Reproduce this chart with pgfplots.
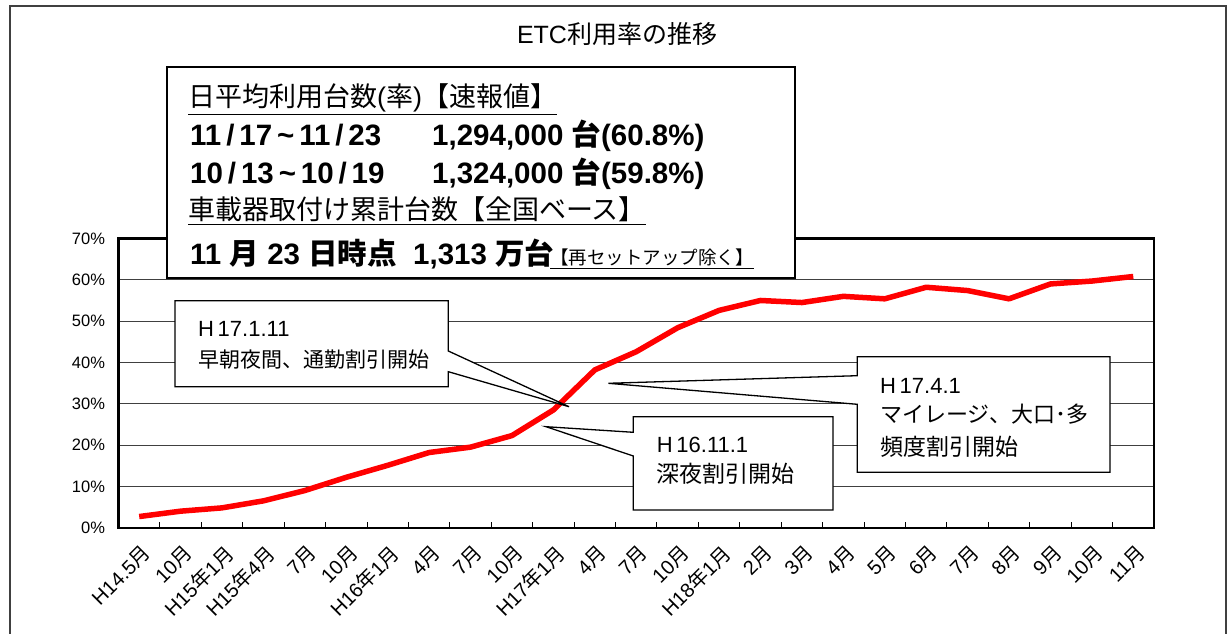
\documentclass[border=0pt]{standalone}
\usepackage{pgfplots}
\pgfplotsset{compat=1.18}
\usepackage{fontspec}
\setmainfont{Liberation Sans}
\newfontfamily\jp{Noto Sans CJK JP}
\newcommand\J[1]{{\jp #1}}
\newcommand\Mo{\J{月}}
\newcommand\Ne{\J{年}}
\newcommand\fs[1]{\fontsize{#1pt}{#1pt}\selectfont}
\begin{document}
\begin{tikzpicture}
\useasboundingbox (0,0) rectangle (1231pt,634pt);
\begin{axis}[
  at={(118.5pt,106.3pt)}, anchor=south west,
  scale only axis, width=1035.5pt, height=289.2pt,
  xmin=-0.5, xmax=24.5, ymin=0, ymax=70,
  axis line style={line width=2.2pt},
  xtick={0,...,24},
  xticklabels={H14.5\Mo, 10\Mo, H15\Ne1\Mo, H15\Ne4\Mo, 7\Mo, 10\Mo, H16\Ne1\Mo, 4\Mo, 7\Mo, 10\Mo, H17\Ne1\Mo, 4\Mo, 7\Mo, 10\Mo, H18\Ne1\Mo, 2\Mo, 3\Mo, 4\Mo, 5\Mo, 6\Mo, 7\Mo, 8\Mo, 9\Mo, 10\Mo, 11\Mo},
  minor xtick={0.5,1.5,...,23.5},
  major x tick style={draw=none},
  minor x tick style={black, line width=1pt},
  minor tick length=6pt,
  tick align=inside,
  xtick pos=lower, ytick pos=left,
  x tick label style={xshift=8pt, yshift=-22pt, rotate=45, anchor=east, inner sep=0pt, font=\fs{20}},
  ytick={0,10,...,70},
  yticklabel={\pgfmathprintnumber{\tick}\%},
  y tick label style={font=\fs{16.5}, xshift=-10pt},
  /pgf/number format/assume math mode=true,
  ymajorgrids, grid style={black!75, line width=0.9pt},
  major y tick style={draw=none},
]
\addplot[red, line width=5.5pt, line join=round] coordinates {
(0,2.7) (1,4.0) (2,4.8) (3,6.5) (4,9.0) (5,12.2) (6,15.1) (7,18.2) (8,19.5) (9,22.3)
(10,28.5) (11,38.2) (12,42.6) (13,48.4) (14,52.6) (15,55.0) (16,54.5) (17,56.0) (18,55.4)
(19,58.2) (20,57.4) (21,55.4) (22,59.0) (23,59.7) (24,60.8)};
\end{axis}
\begin{scope}[x=1pt, y=-1pt, shift={(0pt,634pt)}]
% outer frame
\draw[line width=1.5pt, black!75] (10,650) -- (10,6) -- (1226,6) -- (1226,650);
% title
\node[anchor=base, font=\fs{25}] at (617,44) {ETC\J{利用率の推移}};
% info box
\draw[line width=1.6pt, fill=white] (167,67) rectangle (795,278);
\node[anchor=base west, font=\fs{27}, inner sep=0pt] at (188,107) {\underline{\J{日平均利用台数}(\J{率})\J{【速報値】}}};
\node[anchor=base west, font=\bfseries\fs{29.5}, inner sep=0pt] at (190,146) {11\,/\,17\,\textasciitilde\,11\,/\,23};
\node[anchor=base west, font=\bfseries\fs{29.5}, inner sep=0pt] at (432,146) {1,294,000 \J{台}(60.8\%)};
\node[anchor=base west, font=\bfseries\fs{29.5}, inner sep=0pt] at (190,184) {10\,/\,13\,\textasciitilde\,10\,/\,19};
\node[anchor=base west, font=\bfseries\fs{29.5}, inner sep=0pt] at (432,184) {1,324,000 \J{台}(59.8\%)};
\node[anchor=base west, font=\fs{27}, inner sep=0pt] at (188,220) {\underline{\J{車載器取付け累計台数【全国ベース】}}};
\node[anchor=base west, font=\bfseries\fs{29.5}, inner sep=0pt] at (190,265) {11 \J{月} 23 \J{日時点}\ \ 1,313 \J{万台}};
\node[anchor=base west, font=\fs{18.5}, inner sep=0pt] at (550,265) {\underline{\J{【再セットアップ除く】}}};
% callout 1
\draw[line width=1.3pt, fill=white] (175,300.7) -- (448.3,300.7) -- (448.3,351) -- (569,406.7) -- (448.3,371.7) -- (448.3,386.7) -- (175,386.7) -- cycle;
\node[anchor=base west, font=\fs{22}, inner sep=0pt] at (198,336.7) {H\,17.1.11};
\node[anchor=base west, font=\fs{21}, inner sep=0pt] at (198,368) {\J{早朝夜間、通勤割引開始}};
% callout 2
\draw[line width=1.3pt, fill=white] (633.3,416.7) -- (833,416.7) -- (833,510) -- (633.3,510) -- (633.3,456) -- (546,426.7) -- (633.3,432.3) -- cycle;
\node[anchor=base west, font=\fs{22}, inner sep=0pt] at (656.7,452.7) {H\,16.11.1};
\node[anchor=base west, font=\fs{23}, inner sep=0pt] at (656.7,483) {\J{深夜割引開始}};
% callout 3
\draw[line width=1.3pt, fill=white] (857.3,356.7) -- (1110,356.7) -- (1110,472.3) -- (857.3,472.3) -- (857.3,404.3) -- (608.3,383.3) -- (857.3,375.7) -- cycle;
\node[anchor=base west, font=\fs{22}, inner sep=0pt] at (880,393.3) {H\,17.4.1};
\node[anchor=base west, font=\fs{22}, inner sep=0pt] at (880,423) {\J{マイレージ、大口･多}};
\node[anchor=base west, font=\fs{23}, inner sep=0pt] at (880,456) {\J{頻度割引開始}};
\end{scope}
\end{tikzpicture}
\end{document}
